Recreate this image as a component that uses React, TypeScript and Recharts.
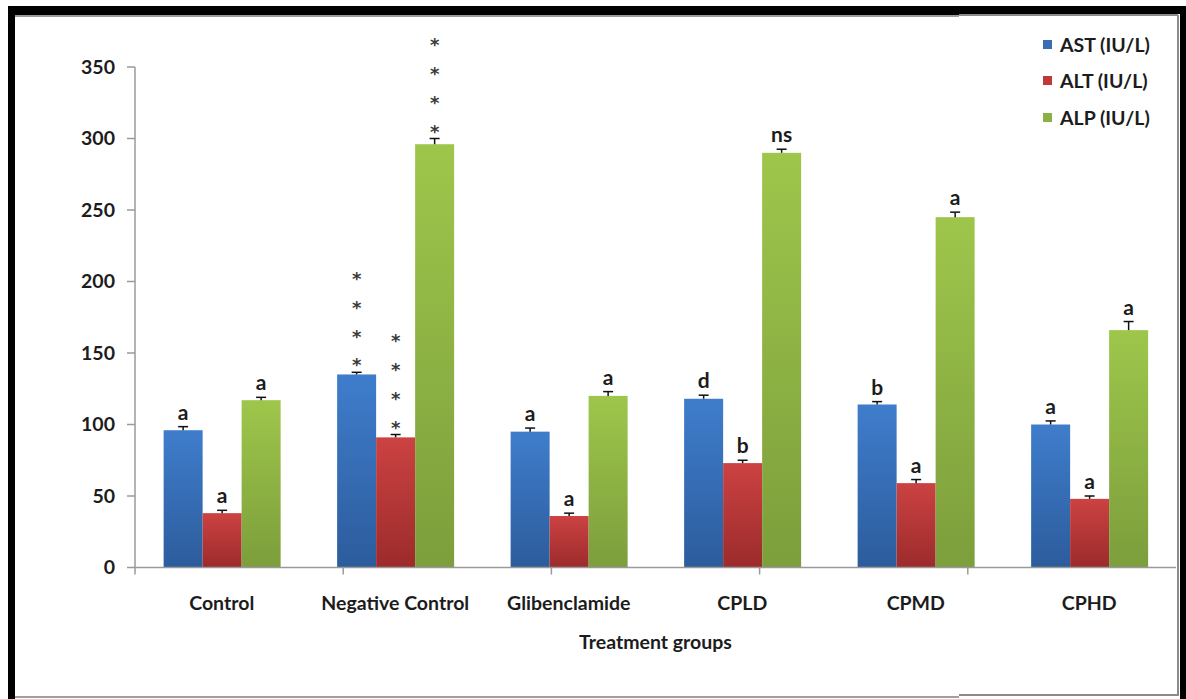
import React from 'react';
import { BarChart, Bar, XAxis, YAxis, Label } from 'recharts';

// Liver enzyme activity per treatment group (mean ± SE) with significance marks
const groups = ['Control', 'Negative Control', 'Glibenclamide', 'CPLD', 'CPMD', 'CPHD'];
const astValues = [96, 135, 95, 118, 114, 100];
const altValues = [38, 91, 36, 73, 59, 48];
const alpValues = [117, 296, 120, 290, 245, 166];
const astErrors = [2.5, 1.5, 2.5, 2.5, 2, 2.5];
const altErrors = [2, 2, 2, 2, 2.5, 2];
const alpErrors = [2, 4, 3, 2.5, 3.5, 6];
const astMarks = ['a', '****', 'a', 'd', 'b', 'a'];
const altMarks = ['a', '****', 'a', 'b', 'a', 'a'];
const alpMarks = ['a', '****', 'a', 'ns', 'a', 'a'];
const yTicks = [0, 50, 100, 150, 200, 250, 300, 350];
const boundaryTicks = [0, 1, 2, 3, 4, 5, 6];

const FONT = 'Lato, "Open Sans", "DejaVu Sans", sans-serif';
const TEXT = '#1c1c1c';
const FS = 19.5;

const data = groups.map((group, i) => ({
  group,
  ast: astValues[i],
  alt: altValues[i],
  alp: alpValues[i],
  astErr: astErrors[i],
  altErr: altErrors[i],
  alpErr: alpErrors[i],
  astMark: astMarks[i],
  altMark: altMarks[i],
  alpMark: alpMarks[i],
}));

const series = [
  { key: 'ast', name: 'AST (IU/L)', top: '#3f7dcc', bottom: '#2c5c9c', swatch: '#3a6db3' },
  { key: 'alt', name: 'ALT (IU/L)', top: '#cc4242', bottom: '#9c2b2b', swatch: '#c0393a' },
  { key: 'alp', name: 'ALP (IU/L)', top: '#9ec64b', bottom: '#7c9e3c', swatch: '#8db045' },
];

// Bar body with a one-sided error whisker and the significance mark above it
function makeShape(key: string) {
  return (props: any) => {
    const { x, y, width, height, payload } = props;
    const value = payload[key];
    const pxPerUnit = value ? height / value : 0;
    const errPx = payload[key + 'Err'] * pxPerUnit;
    const cx = x + width / 2;
    const capY = y - errPx;
    const mark: string = payload[key + 'Mark'];
    return (
      <g>
        <rect x={x} y={y} width={width} height={height} fill={`url(#grad-${key})`} />
        <line x1={cx} y1={y} x2={cx} y2={capY} stroke="#111" strokeWidth={1.5} />
        <line x1={cx - 5} y1={capY} x2={cx + 5} y2={capY} stroke="#111" strokeWidth={1.5} />
        {mark === '****'
          ? [0, 1, 2, 3].map((k) => (
              <text
                key={k}
                x={cx}
                y={capY - 1 - k * 28.7}
                textAnchor="middle"
                fontSize={18}
                fontWeight={700}
                fontFamily='"DejaVu Sans", sans-serif'
                fill="#3a3a3a"
              >
                *
              </text>
            ))
          : (
            <text
              x={cx}
              y={capY - 7}
              textAnchor="middle"
              fontSize={21}
              fontFamily={FONT}
              fontWeight={700}
              fill={TEXT}
            >
              {mark}
            </text>
          )}
      </g>
    );
  };
}

const CategoryTick = (props: any) => {
  const { x, y, payload } = props;
  return (
    <text x={x} y={y + 41} textAnchor="middle" fontSize={FS} fontFamily={FONT} fontWeight={700} fill={TEXT}>
      {payload.value}
    </text>
  );
};

const LegendBox = () => (
  <div
    style={{
      position: 'absolute',
      left: 1043,
      top: 26,
      fontFamily: FONT,
      fontWeight: 700,
      fontSize: FS,
      color: TEXT,
    }}
  >
    {series.map((s) => (
      <div key={s.key} style={{ display: 'flex', alignItems: 'center', height: 36.5 }}>
        <span style={{ width: 9, height: 9, background: s.swatch, display: 'inline-block', marginRight: 8 }} />
        <span style={{ whiteSpace: 'nowrap' }}>{s.name}</span>
      </div>
    ))}
  </div>
);

const frame = (style: React.CSSProperties) => (
  <div style={{ position: 'absolute', pointerEvents: 'none', ...style }} />
);

export default function App() {
  return (
    <div style={{ position: 'absolute', left: 0, top: 0, width: 1186, height: 699, background: '#fff', overflow: 'hidden' }}>
      <BarChart
        width={1186}
        height={699}
        data={data}
        margin={{ top: 67, right: 10, left: 75, bottom: 40.5 }}
        barCategoryGap="16.5%"
        barGap={0}
      >
        <defs>
          {series.map((s) => (
            <linearGradient key={s.key} id={`grad-${s.key}`} x1="0" y1="0" x2="0" y2="1">
              <stop offset="0%" stopColor={s.top} />
              <stop offset="100%" stopColor={s.bottom} />
            </linearGradient>
          ))}
        </defs>
        <XAxis
          xAxisId="bounds"
          type="number"
          domain={[0, 6]}
          ticks={boundaryTicks}
          allowDataOverflow
          height={1}
          stroke="#9a9a9a"
          strokeWidth={1.5}
          tickSize={7}
          tick={() => <g />}
        />
        <XAxis
          xAxisId="cat"
          dataKey="group"
          height={90}
          axisLine={false}
          tickLine={false}
          tickSize={0}
          tickMargin={0}
          interval={0}
          tick={<CategoryTick />}
        >
          <Label
            value="Treatment groups"
            position="insideBottom"
            offset={10}
            style={{ fontFamily: FONT, fontWeight: 700, fontSize: FS, fill: TEXT }}
          />
        </XAxis>
        <YAxis
          width={60}
          domain={[0, 350]}
          ticks={yTicks}
          stroke="#9a9a9a"
          strokeWidth={1.5}
          tickSize={8}
          tickMargin={12}
          tick={{ fill: TEXT, fontSize: FS, fontWeight: 700, fontFamily: FONT }}
        />
        {series.map((s) => (
          <Bar
            key={s.key}
            xAxisId="cat"
            dataKey={s.key}
            name={s.name}
            fill={s.swatch}
            shape={makeShape(s.key)}
            isAnimationActive={false}
          />
        ))}
      </BarChart>
      <LegendBox />
      {frame({ left: 8, top: 6, width: 951, height: 9, background: '#000' })}
      {frame({ left: 8, top: 15, width: 951, height: 2, background: '#9a9a9a' })}
      {frame({ left: 959, top: 6, width: 227, height: 8, background: '#000' })}
      {frame({ left: 959, top: 14, width: 219, height: 2, background: '#8a8a8a' })}
      {frame({ left: 8, top: 6, width: 7, height: 693, background: '#000' })}
      {frame({ left: 1180, top: 6, width: 6, height: 693, background: '#000' })}
      {frame({ left: 1177, top: 15, width: 2, height: 681, background: '#8a8a8a' })}
      {frame({ left: 15, top: 696, width: 944, height: 2, background: '#a0a0a0' })}
      {frame({ left: 959, top: 694, width: 219, height: 2, background: '#8a8a8a' })}
    </div>
  );
}
